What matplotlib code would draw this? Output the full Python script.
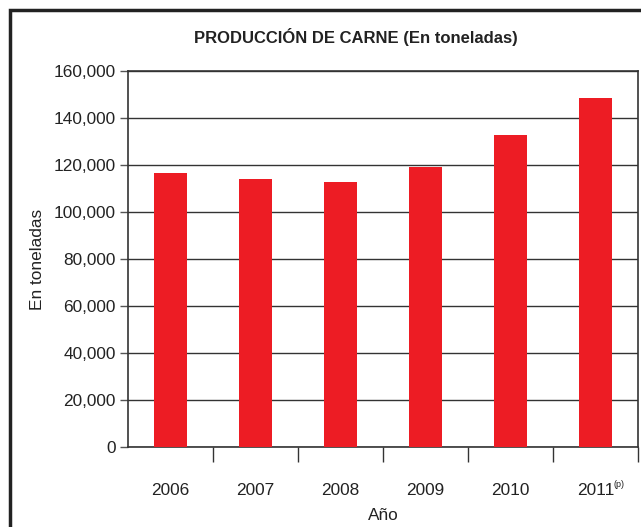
import numpy as np
import matplotlib
matplotlib.use("Agg")
import matplotlib.pyplot as plt
from matplotlib.patches import Rectangle

# --- datos ---
anios = ["2006", "2007", "2008", "2009", "2010", "2011"]
produccion = [116500, 114000, 112800, 119000, 132800, 148500]
yticks = [0, 20000, 40000, 60000, 80000, 100000, 120000, 140000, 160000]

plt.rcParams['font.family'] = ['Liberation Sans Narrow', 'Liberation Sans', 'DejaVu Sans']

fig = plt.figure(figsize=(6.41, 5.27), dpi=100)
ax = fig.add_axes([0.1997, 0.1518, 0.7956, 0.7135])

x = np.arange(len(anios)) + 0.5
ax.bar(x, produccion, width=0.39, color='#ed1c24', zorder=3)

ax.set_xlim(0, len(anios))
ax.set_ylim(0, 160000)
ax.set_yticks(yticks)
ax.set_yticklabels([f"{v:,}" for v in yticks], fontsize=12.4, color='#222222')
ax.yaxis.grid(True, color='#333333', linewidth=1, zorder=0)

# ticks de separacion abajo, etiquetas al centro
ax.set_xticks(np.arange(1, len(anios) + 1))
ax.set_xticklabels([])
ax.tick_params(axis='x', which='major', length=11, width=1, color='#333333', direction='out')
ax.set_xticks(x, minor=True)
ax.set_xticklabels(anios, minor=True, fontsize=12.4, color='#222222')
ax.tick_params(axis='x', which='minor', length=0, pad=26)
ax.tick_params(axis='y', length=6, width=1, color='#555555', pad=3)

# superindice (p) de 2011
ax.annotate("(p)", xy=(x[-1], 0), xycoords=('data', 'axes fraction'),
            xytext=(13, -27), textcoords='offset points', fontsize=6.5,
            color='#222222', ha='left', va='center')

for s in ax.spines.values():
    s.set_color('#333333')
    s.set_linewidth(1.2)

ax.set_xlabel("Año", fontsize=12.4, labelpad=7, color='#222222')
ax.set_ylabel("En toneladas", fontsize=12.4, labelpad=6, color='#222222')
fig.text(0.555, 0.93, "PRODUCCIÓN DE CARNE (En toneladas)", ha='center', va='center',
         fontsize=12, fontweight='bold', color='#222222')

# marco exterior
fig.patches.append(Rectangle((10 / 641, -0.05), 1.0, 1 - 10 / 527 + 0.05,
                             transform=fig.transFigure, fill=False,
                             edgecolor='#222222', linewidth=2.5))

fig.savefig("out.png", dpi=100)
